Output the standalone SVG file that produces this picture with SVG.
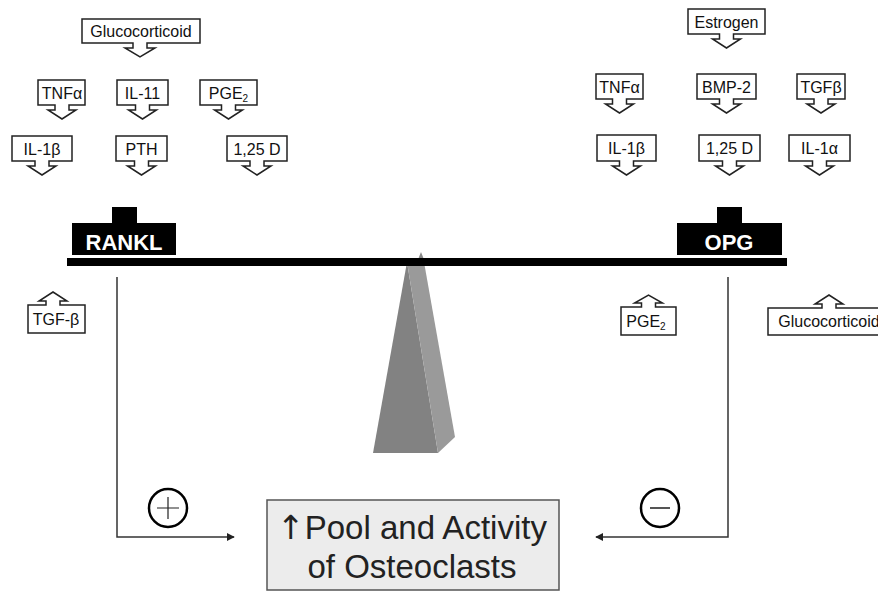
<svg xmlns="http://www.w3.org/2000/svg" width="878" height="592" viewBox="0 0 878 592">
<defs>
<style>
.cb{fill:#fff;stroke:#222;stroke-width:1.5;stroke-linejoin:miter}
.lbl{font-family:"Liberation Sans",Arial,sans-serif;font-size:16px;text-anchor:middle;fill:#111}
.blk{fill:#000}
.wt{font-family:"Liberation Sans",Arial,sans-serif;font-size:22px;font-weight:bold;fill:#fff;text-anchor:middle}
.con{fill:none;stroke:#333;stroke-width:1.5}
.big{font-family:"Liberation Sans",Arial,sans-serif;font-size:33px;fill:#222;text-anchor:middle}
</style>
<marker id="ah" viewBox="0 0 10 10" refX="9" refY="5" markerWidth="8" markerHeight="8" markerUnits="userSpaceOnUse" orient="auto">
<path d="M0,0 L10,5 L0,10 Z" fill="#222"/>
</marker>
</defs>
<rect width="878" height="592" fill="#fff"/>

<g id="fulcrum">
<polygon points="417,262 421,252 425,262" fill="#8a8a8a"/>
<polygon points="407,262 373,453 438,453" fill="#828282"/>
<polygon points="407,262 424,262 455,437 438,453" fill="#9a9a9a"/>
</g>

<g id="beam">
<rect x="67" y="258" width="720" height="8" class="blk"/>
</g>

<g id="rankl">
<path class="blk" d="M72,223 H112 V207 H137 V223 H176 V255 H72 Z"/>
<text class="wt" x="124" y="250">RANKL</text>
</g>
<g id="opg">
<path class="blk" d="M677,223 H717 V207 H742 V223 H782 V255 H677 Z"/>
<text class="wt" x="729" y="250">OPG</text>
</g>

<g id="n-glucocorticoid-l">
<path class="cb" d="M82,19 H200 V43 H147 V48 H155 L140,57 L125,48 H133 V43 H82 Z"/>
<text class="lbl" x="141" y="37">Glucocorticoid</text>
</g>
<g id="n-tnfa-l">
<path class="cb" d="M38,80 H85 V105 H69 V110 H76 L62,119 L48,110 H55 V105 H38 Z"/>
<text class="lbl" x="62" y="98.5">TNFα</text>
</g>
<g id="n-il11">
<path class="cb" d="M117,80 H168 V105 H149.5 V110 H156.5 L142.5,119 L128.5,110 H135.5 V105 H117 Z"/>
<text class="lbl" x="142.5" y="98.5">IL-11</text>
</g>
<g id="n-pge2-l">
<path class="cb" d="M200,80 H257 V105 H235.5 V110 H242.5 L228.5,119 L214.5,110 H221.5 V105 H200 Z"/>
<text class="lbl" x="228.5" y="98.5">PGE<tspan font-size="10" dy="3">2</tspan></text>
</g>
<g id="n-il1b-l">
<path class="cb" d="M12,136 H72 V161 H49 V166 H56 L42,175 L28,166 H35 V161 H12 Z"/>
<text class="lbl" x="42" y="154.5">IL-1β</text>
</g>
<g id="n-pth">
<path class="cb" d="M116,136 H167 V161 H148.5 V166 H155.5 L141.5,175 L127.5,166 H134.5 V161 H116 Z"/>
<text class="lbl" x="141.5" y="154.5">PTH</text>
</g>
<g id="n-125d-l">
<path class="cb" d="M227,136 H287 V161 H264 V166 H271 L257,175 L243,166 H250 V161 H227 Z"/>
<text class="lbl" x="257" y="154.5">1,25 D</text>
</g>

<g id="n-estrogen">
<path class="cb" d="M688,9 H765 V34 H733.5 V39 H740.5 L726.5,48 L712.5,39 H719.5 V34 H688 Z"/>
<text class="lbl" x="726.5" y="27.5">Estrogen</text>
</g>
<g id="n-tnfa-r">
<path class="cb" d="M596,74 H643 V99 H626.5 V104 H633.5 L619.5,113 L605.5,104 H612.5 V99 H596 Z"/>
<text class="lbl" x="619.5" y="92.5">TNFα</text>
</g>
<g id="n-bmp2">
<path class="cb" d="M697,74 H756 V99 H733.5 V104 H740.5 L726.5,113 L712.5,104 H719.5 V99 H697 Z"/>
<text class="lbl" x="726.5" y="92.5">BMP-2</text>
</g>
<g id="n-tgfb-r">
<path class="cb" d="M797,74 H845 V99 H828 V104 H835 L821,113 L807,104 H814 V99 H797 Z"/>
<text class="lbl" x="821" y="92.5">TGFβ</text>
</g>
<g id="n-il1b-r">
<path class="cb" d="M597,135 H656 V161 H633.5 V166 H640.5 L626.5,175 L612.5,166 H619.5 V161 H597 Z"/>
<text class="lbl" x="626.5" y="154">IL-1β</text>
</g>
<g id="n-125d-r">
<path class="cb" d="M699,135 H760 V161 H736.5 V166 H743.5 L729.5,175 L715.5,166 H722.5 V161 H699 Z"/>
<text class="lbl" x="729.5" y="154">1,25 D</text>
</g>
<g id="n-il1a">
<path class="cb" d="M789,135 H850 V161 H826.5 V166 H833.5 L819.5,175 L805.5,166 H812.5 V161 H789 Z"/>
<text class="lbl" x="819.5" y="154">IL-1α</text>
</g>

<g id="n-tgfb-l">
<path class="cb" d="M28,333 H85 V305 H60 V301 H67 L53,292 L39,301 H46 V305 H28 Z"/>
<text class="lbl" x="56" y="325">TGF-β</text>
</g>
<g id="n-pge2-r">
<path class="cb" d="M621,335 H676 V307 H655.5 V303 H662.5 L648.5,295 L634.5,303 H641.5 V307 H621 Z"/>
<text class="lbl" x="646" y="327">PGE<tspan font-size="10" dy="3">2</tspan></text>
</g>
<g id="n-glucocorticoid-r">
<path class="cb" d="M768,335 H892 V308 H836 V304 H843 L829,295 L815,304 H822 V308 H768 Z"/>
<text class="lbl" x="829" y="327">Glucocorticoid</text>
</g>

<g id="connectors">
<path class="con" d="M117,277 V537 H234" marker-end="url(#ah)"/>
<path class="con" d="M728,277 V537 H596" marker-end="url(#ah)"/>
</g>

<g id="plus">
<circle cx="168" cy="508" r="19" fill="none" stroke="#000" stroke-width="2.5"/>
<path d="M157,508 H179 M168,497 V519" stroke="#222" stroke-width="1.2"/>
</g>
<g id="minus">
<circle cx="660" cy="508" r="19" fill="none" stroke="#000" stroke-width="2.5"/>
<path d="M650,508 H670" stroke="#555" stroke-width="2"/>
</g>

<g id="n-osteoclasts">
<rect x="267" y="500" width="292" height="90" fill="#ececec" stroke="#555" stroke-width="1.5"/>
<text class="big" x="412" y="539"><tspan font-family="'DejaVu Sans',sans-serif" font-weight="normal" fill="#222">↑</tspan>Pool and Activity</text>
<text class="big" x="412" y="578">of Osteoclasts</text>
</g>
</svg>
